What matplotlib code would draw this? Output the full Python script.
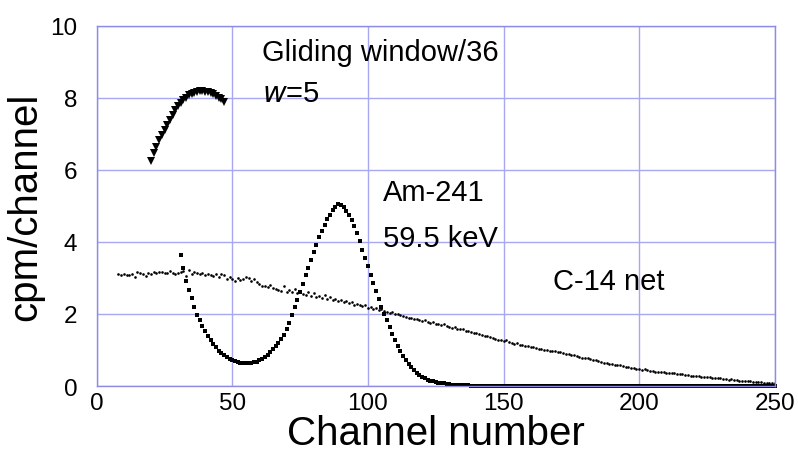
import matplotlib.pyplot as plt

plt.rcParams['font.family'] = ['Liberation Sans', 'DejaVu Sans']

# Gliding window/36 (w=5), channels 20..47
glide_ch = list(range(20, 48))
glide_val = [6.26, 6.47, 6.65, 6.82, 6.97, 7.12, 7.26, 7.40, 7.54, 7.66,
             7.77, 7.86, 7.94, 8.01, 8.07, 8.12, 8.15, 8.18, 8.19, 8.19,
             8.18, 8.16, 8.13, 8.10, 8.06, 8.01, 7.96, 7.90]

# Am-241 spectrum, channels 31..250
am_ch = list(range(31, 251))
am_val = [3.65, 3.28, 2.92, 2.67, 2.44, 2.20, 1.98, 1.84, 1.67, 1.53,
          1.40, 1.28, 1.17, 1.07, 0.98, 0.91, 0.85, 0.80, 0.76, 0.72,
          0.69, 0.67, 0.65, 0.64, 0.63, 0.63, 0.64, 0.66, 0.68, 0.71,
          0.75, 0.80, 0.87, 0.94, 1.02, 1.11, 1.20, 1.30, 1.43, 1.58,
          1.76, 1.97, 2.19, 2.40, 2.62, 2.84, 3.07, 3.29, 3.51, 3.72,
          3.93, 4.14, 4.31, 4.48, 4.63, 4.76, 4.88, 4.98, 5.05, 5.03,
          4.96, 4.87, 4.76, 4.62, 4.45, 4.24, 4.03, 3.79, 3.56, 3.32,
          3.08, 2.86, 2.64, 2.42, 2.20, 2.01, 1.84, 1.64, 1.45, 1.27,
          1.11, 0.97, 0.84, 0.72, 0.61, 0.52, 0.44, 0.37, 0.31, 0.26,
          0.22, 0.18, 0.15, 0.13, 0.11, 0.09, 0.08, 0.07, 0.06, 0.05,
          0.04, 0.04, 0.03, 0.03, 0.02, 0.02, 0.02, 0.01, 0.01, 0.01,
          0.01, 0.01, 0.01, 0.01, 0.01, 0.01, 0.01, 0.01, 0.01, 0.01,
          0.01, 0.01, 0.01, 0.01, 0.01, 0.01, 0.01, 0.01, 0.01, 0.01,
          0.01, 0.01, 0.01, 0.01, 0.01, 0.01, 0.01, 0.01, 0.01, 0.01,
          0.01, 0.01, 0.01, 0.01, 0.01, 0.01, 0.01, 0.01, 0.01, 0.01,
          0.01, 0.01, 0.01, 0.01, 0.01, 0.01, 0.01, 0.01, 0.01, 0.01,
          0.01, 0.01, 0.01, 0.01, 0.01, 0.01, 0.01, 0.01, 0.01, 0.01,
          0.01, 0.01, 0.01, 0.01, 0.01, 0.01, 0.01, 0.01, 0.01, 0.01,
          0.01, 0.01, 0.01, 0.01, 0.01, 0.01, 0.01, 0.01, 0.01, 0.01,
          0.01, 0.01, 0.01, 0.01, 0.01, 0.01, 0.01, 0.01, 0.01, 0.01,
          0.01, 0.01, 0.01, 0.01, 0.01, 0.01, 0.01, 0.01, 0.01, 0.01,
          0.01, 0.01, 0.01, 0.01, 0.01, 0.01, 0.01, 0.01, 0.01, 0.01]

# C-14 net spectrum, channels 8..250
c14_ch = list(range(8, 251))
c14_val = [3.10, 3.08, 3.12, 3.07, 3.09, 3.11, 3.02, 3.16, 3.13, 3.10,
           3.05, 3.14, 3.12, 3.18, 3.15, 3.17, 3.16, 3.14, 3.15, 3.19,
           3.13, 3.10, 3.14, 3.16, 3.20, 3.06, 3.22, 3.12, 3.16, 3.14,
           3.11, 3.13, 3.08, 3.12, 3.09, 3.06, 3.10, 3.04, 3.12, 3.07,
           2.98, 3.04, 2.96, 2.93, 3.00, 2.95, 2.97, 3.03, 2.99, 2.92,
           2.96, 2.89, 2.82, 2.79, 2.78, 2.76, 2.80, 2.73, 2.70, 2.66,
           2.65, 2.78, 2.62, 2.66, 2.61, 2.70, 2.58, 2.64, 2.56, 2.54,
           2.60, 2.51, 2.58, 2.47, 2.50, 2.44, 2.53, 2.41, 2.46, 2.39,
           2.43, 2.36, 2.38, 2.33, 2.35, 2.30, 2.32, 2.26, 2.29, 2.24,
           2.22, 2.25, 2.18, 2.20, 2.14, 2.16, 2.11, 2.13, 2.08, 2.05,
           2.04, 2.06, 2.01, 1.99, 1.97, 1.95, 1.93, 1.90, 1.88, 1.85,
           1.86, 1.83, 1.80, 1.82, 1.78, 1.76, 1.77, 1.73, 1.71, 1.69,
           1.72, 1.66, 1.64, 1.62, 1.63, 1.59, 1.57, 1.58, 1.54, 1.52,
           1.50, 1.48, 1.47, 1.45, 1.42, 1.40, 1.38, 1.36, 1.33, 1.31,
           1.29, 1.28, 1.25, 1.27, 1.22, 1.20, 1.18, 1.19, 1.15, 1.13,
           1.12, 1.10, 1.08, 1.09, 1.06, 1.04, 1.03, 1.00, 1.01, 0.98,
           0.97, 0.96, 0.94, 0.95, 0.92, 0.90, 0.88, 0.86, 0.85, 0.82,
           0.80, 0.79, 0.77, 0.78, 0.74, 0.72, 0.71, 0.69, 0.67, 0.65,
           0.64, 0.62, 0.61, 0.59, 0.57, 0.58, 0.55, 0.53, 0.52, 0.50,
           0.49, 0.48, 0.47, 0.45, 0.46, 0.44, 0.42, 0.41, 0.40, 0.39,
           0.38, 0.39, 0.37, 0.36, 0.35, 0.36, 0.34, 0.32, 0.33, 0.31,
           0.30, 0.29, 0.28, 0.29, 0.27, 0.26, 0.25, 0.24, 0.25, 0.23,
           0.22, 0.21, 0.22, 0.20, 0.19, 0.18, 0.19, 0.17, 0.16, 0.15,
           0.15, 0.14, 0.13, 0.14, 0.12, 0.11, 0.10, 0.11, 0.09, 0.09,
           0.08, 0.08, 0.07]

x_ticks = [0, 50, 100, 150, 200, 250]
y_ticks = [0, 2, 4, 6, 8, 10]

grid_col = '#a8a8f0'
spine_col = '#8c8ce6'

fig = plt.figure(figsize=(7.98, 4.52), dpi=100)
ax = fig.add_axes([0.1212, 0.1438, 0.8496, 0.7965])

ax.plot(c14_ch, c14_val, 'o', color='black', markersize=1.9, markeredgewidth=0)
ax.plot(am_ch, am_val, 's', color='black', markersize=2.9, markeredgewidth=0,
        clip_on=False)
ax.plot(glide_ch, glide_val, 'v', color='black', markersize=5.2, markeredgewidth=0)

ax.set_xlim(0, 250)
ax.set_ylim(0, 10)
ax.set_xticks(x_ticks)
ax.set_yticks(y_ticks)
ax.grid(True, color=grid_col, linewidth=1)
ax.set_axisbelow(True)
for s in ax.spines.values():
    s.set_color(spine_col)
    s.set_linewidth(1)
ax.tick_params(axis='both', length=0, labelsize=17.5)
ax.tick_params(axis='x', pad=4)
ax.tick_params(axis='y', pad=14)

ax.set_xlabel('Channel number', fontsize=29, labelpad=0)
ax.set_ylabel('cpm/channel', fontsize=29, labelpad=4)

ax.text(61, 9.06, 'Gliding window/36', fontsize=21)
ax.text(61, 7.92, r'$\it{w}$=5', fontsize=21)
ax.text(105.6, 5.18, 'Am-241', fontsize=21)
ax.text(105.6, 3.9, '59.5 keV', fontsize=21)
ax.text(168.3, 2.7, 'C-14 net', fontsize=21)

plt.savefig('out.png', dpi=100)
